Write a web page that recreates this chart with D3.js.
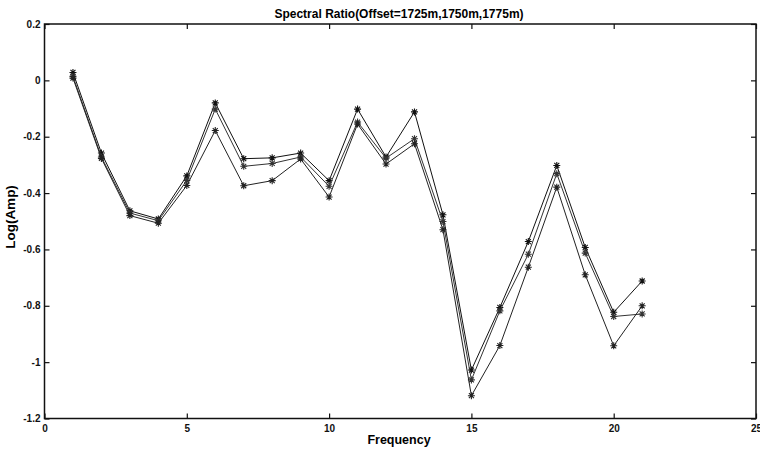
<!DOCTYPE html>
<html>
<head>
<meta charset="utf-8">
<script src="https://cdn.jsdelivr.net/npm/d3@7"></script>
<style>
  body { margin: 0; background: #fff; }
  text { font-family: "Liberation Sans", Arial, sans-serif; font-weight: bold; }
</style>
</head>
<body>
<svg width="760" height="451"></svg>
<script>
// frequencies and the three spectral ratio curves
var freq = [1, 2, 3, 4, 5, 6, 7, 8, 9, 10, 11, 12, 13, 14, 15, 16, 17, 18, 19, 20, 21]
var off1725 = [0.028, -0.258, -0.463, -0.492, -0.339, -0.080, -0.278, -0.275, -0.258, -0.356, -0.102, -0.272, -0.112, -0.477, -1.028, -0.806, -0.572, -0.302, -0.593, -0.823, -0.712]
var off1750 = [0.014, -0.272, -0.471, -0.498, -0.355, -0.102, -0.305, -0.295, -0.272, -0.376, -0.148, -0.276, -0.207, -0.501, -1.063, -0.818, -0.617, -0.331, -0.613, -0.838, -0.829]
var off1775 = [0.008, -0.277, -0.480, -0.507, -0.373, -0.178, -0.374, -0.356, -0.279, -0.414, -0.155, -0.297, -0.225, -0.530, -1.119, -0.941, -0.663, -0.379, -0.690, -0.942, -0.800]
var xTicks = [0, 5, 10, 15, 20, 25]
var yTicks = [0.2, 0, -0.2, -0.4, -0.6, -0.8, -1, -1.2]

var svg = d3.select("svg")
var boxL = 44.5, boxR = 756, boxT = 24, boxB = 418.5

var xScale = d3.scaleLinear().domain([0, 25]).range([boxL, boxR])
var yScale = d3.scaleLinear().domain([-1.2, 0.2]).range([boxB, boxT])

// ticks, matlab style (pointing inwards, on all four sides)
svg.append("g")
    .attr("transform", "translate(0," + boxB + ")")
    .call(d3.axisBottom(xScale).tickValues(xTicks).tickSizeInner(-5).tickSizeOuter(0).tickPadding(6))
svg.append("g")
    .attr("transform", "translate(" + boxL + ",0)")
    .call(d3.axisLeft(yScale).tickValues(yTicks).tickSizeInner(-5).tickSizeOuter(0).tickPadding(4)
        .tickFormat(function(d) { return String(+d.toFixed(1)) }))
svg.append("g")
    .attr("transform", "translate(0," + boxT + ")")
    .call(d3.axisTop(xScale).tickValues(xTicks).tickSizeInner(-5).tickSizeOuter(0).tickFormat(""))
svg.append("g")
    .attr("transform", "translate(" + boxR + ",0)")
    .call(d3.axisRight(yScale).tickValues(yTicks).tickSizeInner(-5).tickSizeOuter(0).tickFormat(""))

svg.selectAll(".domain").remove()
svg.selectAll(".tick line").attr("stroke", "#111").attr("stroke-width", 1.2)
svg.selectAll(".tick text")
    .style("font-size", "10px")
    .style("font-family", "'Liberation Sans', Arial, sans-serif")
    .style("font-weight", "bold")
    .attr("fill", "#111")

svg.append("rect")
    .attr("x", boxL).attr("y", boxT)
    .attr("width", boxR - boxL).attr("height", boxB - boxT)
    .attr("fill", "none")
    .attr("stroke", "#111")
    .attr("stroke-width", 1.5)

// titles
svg.append("text")
    .attr("x", 399).attr("y", 18)
    .attr("text-anchor", "middle")
    .style("font-size", "12px")
    .text("Spectral Ratio(Offset=1725m,1750m,1775m)")

svg.append("text")
    .attr("x", 399).attr("y", 444)
    .attr("text-anchor", "middle")
    .style("font-size", "12.5px")
    .text("Frequency")

svg.append("text")
    .attr("text-anchor", "middle")
    .attr("transform", "translate(15,217)rotate(-90)")
    .style("font-size", "13.5px")
    .text("Log(Amp)")

// curves
var series = [off1725, off1750, off1775]
var colors = ["#111", "#333", "#222"]

var line = d3.line()
    .x(function(d, i) { return xScale(freq[i]) })
    .y(function(d) { return yScale(d) })

var star = "M-3.5,0L3.5,0M0,-3.5L0,3.5M-2.5,-2.5L2.5,2.5M-2.5,2.5L2.5,-2.5"

series.forEach(function(vals, k) {
    svg.append("path")
        .datum(vals)
        .attr("d", line)
        .attr("fill", "none")
        .attr("stroke", colors[k])
        .attr("stroke-width", 1)

    svg.append("g")
        .selectAll("path")
        .data(vals)
        .enter()
        .append("path")
        .attr("transform", function(d, i) { return "translate(" + xScale(freq[i]) + "," + yScale(d) + ")" })
        .attr("d", star)
        .attr("stroke", colors[k])
        .attr("stroke-width", 1.1)
})
</script>
</body>
</html>
